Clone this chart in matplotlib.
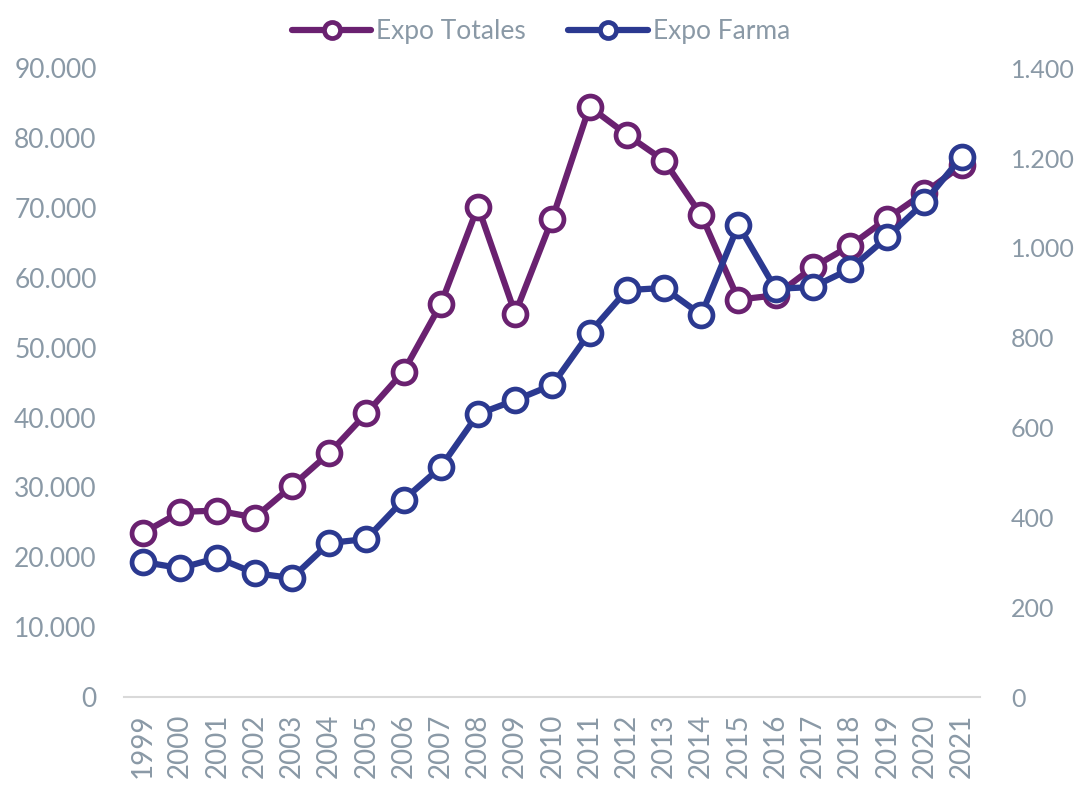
import matplotlib
matplotlib.use("Agg")
import matplotlib.pyplot as plt
from matplotlib.ticker import FuncFormatter, MultipleLocator

plt.rcParams["font.family"] = ["Lato", "DejaVu Sans"]

years = [str(y) for y in range(1999, 2022)]
expo_totales = [23500, 26500, 26700, 25700, 30200, 34900, 40600, 46600, 56200,
                70200, 54900, 68500, 84500, 80500, 76800, 69000, 56900, 57500,
                61500, 64600, 68500, 72200, 76100]
expo_farma = [301, 287, 310, 276, 265, 343, 352, 439, 512, 630, 661, 695, 811,
              906, 911, 851, 1051, 909, 913, 953, 1024, 1102, 1203]

PURPLE = "#6A2170"
BLUE = "#2B3990"
GREY = "#8A99A6"


def thousands(v, _pos):
    return f"{int(round(v)):,}".replace(",", ".")


fig = plt.figure(figsize=(10.82, 7.85), dpi=100)
ax = fig.add_axes([0.115, 0.112, 0.791, 0.801])
ax2 = ax.twinx()

x = list(range(len(years)))
style = dict(lw=4.5, marker="o", markersize=16.5, markerfacecolor="white",
             markeredgewidth=3.4, solid_capstyle="round")
l1, = ax.plot(x, expo_totales, color=PURPLE, label="Expo Totales", **style)
l2, = ax2.plot(x, expo_farma, color=BLUE, label="Expo Farma", **style)

ax.set_xlim(-0.5, len(years) - 0.5)
ax.set_ylim(0, 90000)
ax2.set_ylim(0, 1400)
ax.yaxis.set_major_locator(MultipleLocator(10000))
ax2.yaxis.set_major_locator(MultipleLocator(200))
ax.yaxis.set_major_formatter(FuncFormatter(thousands))
ax2.yaxis.set_major_formatter(FuncFormatter(thousands))

ax.set_xticks(x)
ax.set_xticklabels(years, rotation=90)

for a in (ax, ax2):
    for s in a.spines.values():
        s.set_visible(False)
    a.tick_params(length=0, colors=GREY, labelsize=19)
ax.spines["bottom"].set_visible(True)
ax.spines["bottom"].set_color("#D9D9D9")
ax.spines["bottom"].set_linewidth(1.5)
ax.tick_params(axis="y", pad=20)
ax2.tick_params(axis="y", pad=22, labelsize=18)
ax.tick_params(axis="x", pad=12, labelsize=20)

leg = fig.legend([l1, l2], ["Expo Totales", "Expo Farma"], loc="upper center",
                 bbox_to_anchor=(0.5, 1.006), ncol=2, frameon=False,
                 fontsize=19, handlelength=3.0, columnspacing=1.6,
                 handletextpad=0.2, markerscale=0.7)
for t in leg.get_texts():
    t.set_color(GREY)

fig.savefig("out.png", dpi=100)
